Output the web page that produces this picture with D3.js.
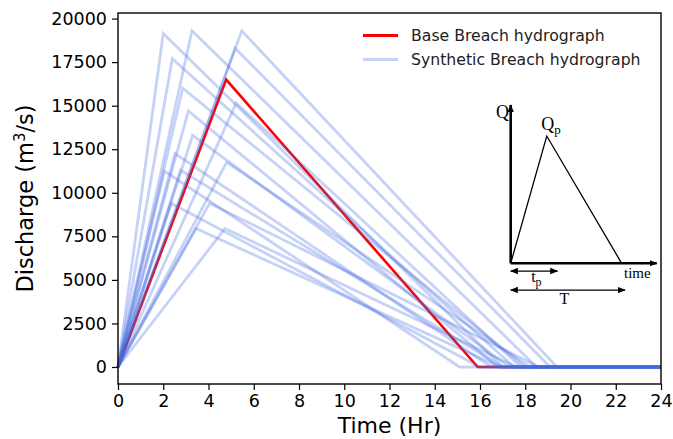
<!DOCTYPE html>
<html><head><meta charset="utf-8">
<script src="https://cdn.jsdelivr.net/npm/d3@7/dist/d3.min.js"></script>
<style>body{margin:0;background:#fff}svg{display:block}</style>
</head><body>
<svg id="c" width="673" height="439"></svg>
<script>
// ---- data ----
const xTicks = [0,2,4,6,8,10,12,14,16,18,20,22,24];
const yTicks = [0,2500,5000,7500,10000,12500,15000,17500,20000];
// base breach hydrograph: time to peak, peak discharge, end time
const baseTp = 4.78, baseQp = 16500, baseT = 15.9;
// synthetic breach hydrographs
const synTp = [2.0, 3.27, 5.47, 5.18, 2.4, 2.86, 5.22, 3.11, 3.3, 2.52, 4.8, 2.05, 2.76, 2.35, 4.05, 3.45, 4.73];
const synQp = [19150,19300,19300,18300,17700,16000,15150,14700,13300,12250,11750,11250,11300,9400,9400,7950,7950];
const synT  = [17.0, 18.5, 19.4, 19.1, 17.5, 18.0, 17.8, 16.8, 17.3, 16.5, 18.2, 15.1, 17.0, 16.0, 18.6, 16.9, 17.6];
const tEnd = 24;
const legendLabels = ["Base Breach hydrograph","Synthetic Breach hydrograph"];

// ---- layout ----
const svg = d3.select("#c");
const L = 118, R = 661, T = 13, B = 384;
const x = d3.scaleLinear().domain([0,24]).range([L,R]);
const y = d3.scaleLinear().domain([-976,20320]).range([B,T]);
const font = "DejaVu Sans, sans-serif";

const line = d3.line().x(d=>x(d[0])).y(d=>y(d[1]));
const hydro = (tp,qp,te)=>[[0,0],[tp,qp],[te,0],[tEnd,0]];

const g = svg.append("g");
g.append("path").datum(hydro(baseTp,baseQp,baseT)).attr("d",line)
  .attr("fill","none").attr("stroke","#ff0000").attr("stroke-width",2.6).attr("stroke-linejoin","miter");
synTp.forEach((tp,i)=>{
  g.append("path").datum(hydro(tp,synQp[i],synT[i])).attr("d",line)
   .attr("fill","none").attr("stroke","#4169e1").attr("stroke-opacity",0.3)
   .attr("stroke-width",2.8);
});

// axes
const xa = svg.append("g").attr("transform",`translate(0,${B})`)
  .call(d3.axisBottom(x).tickValues(xTicks).tickSize(6).tickPadding(5).tickFormat(d3.format("d")));
const ya = svg.append("g").attr("transform",`translate(${L},0)`)
  .call(d3.axisLeft(y).tickValues(yTicks).tickSize(6).tickPadding(5).tickFormat(d3.format("d")));
[xa,ya].forEach(a=>{
  a.selectAll("text").attr("font-family",font).attr("font-size",17.5).attr("fill","#000");
  a.selectAll("line").attr("stroke","#000").attr("stroke-width",1.2);
  a.select(".domain").remove();
});
// frame
svg.append("rect").attr("x",L).attr("y",T).attr("width",R-L).attr("height",B-T)
  .attr("fill","none").attr("stroke","#000").attr("stroke-width",1.4);

// axis labels
svg.append("text").attr("x",(L+R)/2).attr("y",433).attr("text-anchor","middle")
  .attr("font-family",font).attr("font-size",22).text("Time (Hr)");
const yl = svg.append("text").attr("transform",`translate(33,${(T+B)/2}) rotate(-90)`)
  .attr("text-anchor","middle").attr("font-family",font).attr("font-size",22.5);
yl.append("tspan").text("Discharge (m");
yl.append("tspan").attr("dy",-8).attr("font-size",15).text("3");
yl.append("tspan").attr("dy",8).text("/s)");

// legend
const leg = svg.append("g");
[["#ff0000",1],["#4169e1",0.3]].forEach((c,i)=>{
  const yy = 35.5 + i*24;
  leg.append("line").attr("x1",363).attr("x2",398).attr("y1",yy).attr("y2",yy)
    .attr("stroke",c[0]).attr("stroke-opacity",c[1]).attr("stroke-width",2.8);
  leg.append("text").attr("x",411).attr("y",yy+5.5).attr("font-family",font)
    .attr("font-size",15.7).attr("fill","#222").text(legendLabels[i]);
});

// inset schematic
const ix = d3.scaleLinear().domain([0,1]).range([510.7,656.7]);
const iy = d3.scaleLinear().domain([0,1]).range([263.3,105]);
const ins = svg.append("g");
const defs = svg.append("defs");
defs.append("marker").attr("id","ah").attr("viewBox","0 0 10 10").attr("refX",9).attr("refY",5)
  .attr("markerWidth",8).attr("markerHeight",8).attr("markerUnits","userSpaceOnUse").attr("orient","auto-start-reverse")
  .append("path").attr("d","M0,1 L10,5 L0,9 z").attr("fill","#000");
ins.append("line").attr("x1",ix(0)).attr("y1",iy(0)).attr("x2",ix(0)).attr("y2",iy(1))
  .attr("stroke","#000").attr("stroke-width",2.6).attr("marker-end","url(#ah)");
ins.append("line").attr("x1",ix(0)).attr("y1",iy(0)).attr("x2",ix(1)).attr("y2",iy(0))
  .attr("stroke","#000").attr("stroke-width",2.6).attr("marker-end","url(#ah)");
ins.append("path").datum([[0,0],[0.247,0.804],[0.76,0]])
  .attr("d",d3.line().x(d=>ix(d[0])).y(d=>iy(d[1]))).attr("fill","none").attr("stroke","#000").attr("stroke-width",1.3);
ins.append("line").attr("x1",ix(0)).attr("x2",ix(0.32)).attr("y1",iy(-0.049)).attr("y2",iy(-0.049))
  .attr("stroke","#000").attr("stroke-width",1.2).attr("marker-start","url(#ah)").attr("marker-end","url(#ah)");
ins.append("line").attr("x1",ix(0)).attr("x2",ix(0.783)).attr("y1",iy(-0.169)).attr("y2",iy(-0.169))
  .attr("stroke","#000").attr("stroke-width",1.2).attr("marker-start","url(#ah)").attr("marker-end","url(#ah)");
const sf = "Liberation Serif, Times New Roman, serif";
ins.append("text").attr("x",ix(-0.1)).attr("y",iy(0.915)).attr("font-family",sf).attr("font-size",18).text("Q");
const qp = ins.append("text").attr("x",ix(0.21)).attr("y",iy(0.84)).attr("font-family",sf).attr("font-size",18);
qp.append("tspan").text("Q"); qp.append("tspan").attr("dy",4).attr("font-size",13).text("p");
ins.append("text").attr("x",ix(0.776)).attr("y",iy(-0.09)).attr("font-family",sf).attr("font-size",15).text("time");
const tp = ins.append("text").attr("x",ix(0.14)).attr("y",iy(-0.12)).attr("font-family",sf).attr("font-size",16);
tp.append("tspan").text("t"); tp.append("tspan").attr("dy",4).attr("font-size",12).text("p");
ins.append("text").attr("x",ix(0.335)).attr("y",iy(-0.26)).attr("font-family",sf).attr("font-size",16).text("T");
</script>
</body></html>
